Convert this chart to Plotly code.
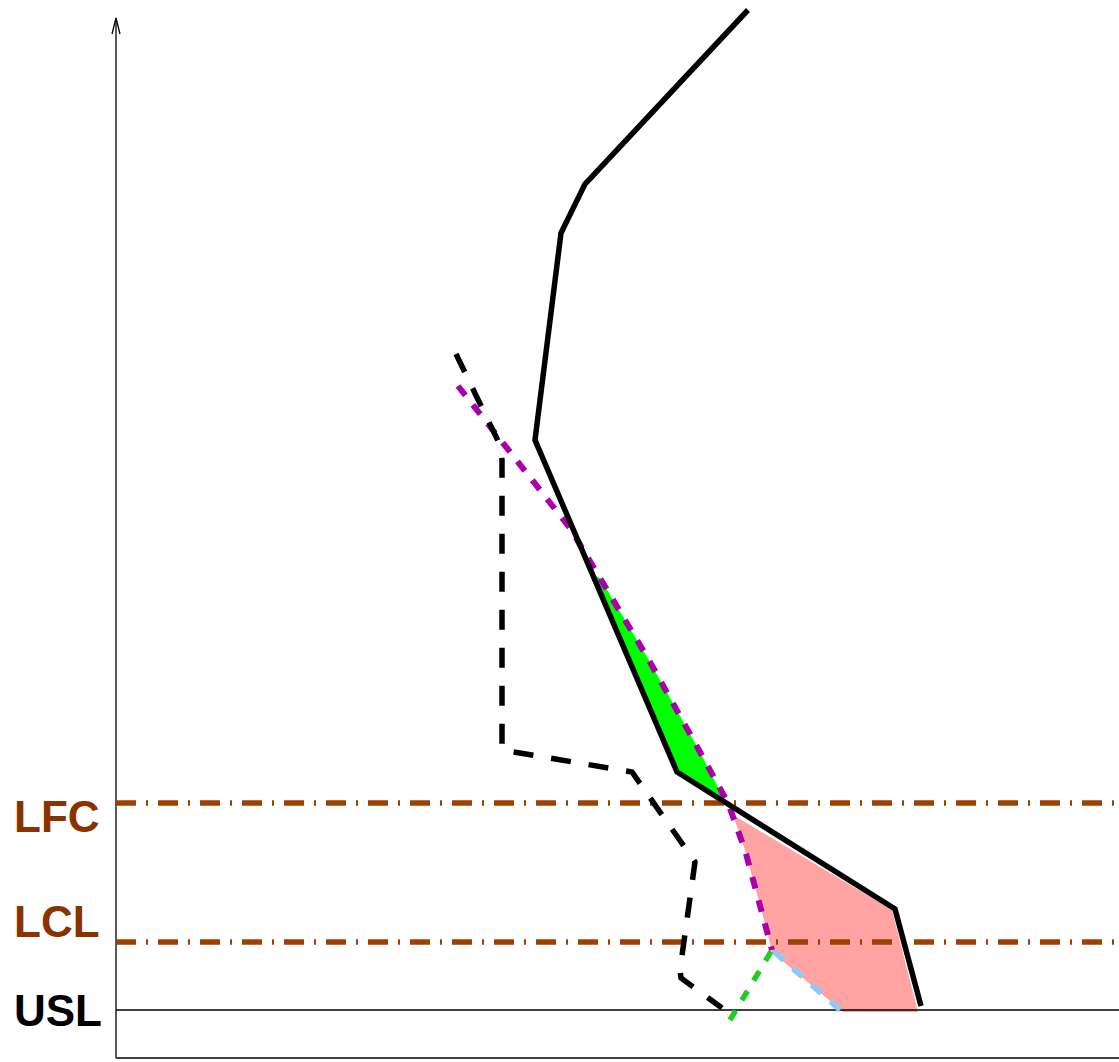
import plotly.graph_objects as go

# Chart units: x to the right of the y-axis, y upward from the x-axis
# Environmental temperature profile
temp_x = [632, 469, 445, 419, 561, 779, 805]
temp_y = [1048, 874, 825, 618, 286, 149, 52]

# Environmental dewpoint profile
dew_x = [340, 358, 384, 386, 386, 516, 579, 564, 565, 606]
dew_y = [704, 667, 613, 598, 308, 286, 196, 88, 80, 50]

# Lifted parcel (moist adiabat above LCL)
parcel_x = [342, 404, 454, 484, 534, 584, 612, 629, 644, 656]
parcel_y = [672, 593, 530, 480, 396, 306, 255, 208, 153, 108]

# Mixing-ratio line from surface dewpoint to LCL
mix_x = [614, 656]
mix_y = [38, 108]

# Dry adiabat from surface to LCL
dry_x = [724, 656]
dry_y = [48, 108]

# CAPE (pink) and negative area (green) outlines
cape_x = [617, 776, 802, 727, 656, 652, 644, 629, 617]
cape_y = [243, 148, 46, 46, 106, 123, 153, 208, 243]
cin_x = [477, 561, 610, 584, 534, 484, 477]
cin_y = [483, 286, 255, 306, 396, 480, 483]

# Levels
usl_y = 48
lcl_y = 116
lfc_y = 255
levels = ["LFC", "LCL", "USL"]
level_y = [lfc_y, lcl_y, usl_y]

X0, X1 = -116, 1003
Y0, Y1 = -4, 1058

fig = go.Figure()

fig.add_trace(go.Scatter(x=cape_x, y=cape_y, fill="toself", mode="none",
                         fillcolor="#FFA3A3", hoverinfo="skip"))
fig.add_trace(go.Scatter(x=cin_x, y=cin_y, fill="toself", mode="none",
                         fillcolor="#00FF00", hoverinfo="skip"))

# axes
fig.add_trace(go.Scatter(x=[0, 0, None, X1, 0], y=[1040, 0, None, 0, 0], mode="lines",
                         line=dict(color="black", width=1.3), hoverinfo="skip"))
fig.add_trace(go.Scatter(x=[-4, 0, 4], y=[1024, 1040, 1024], mode="lines",
                         line=dict(color="black", width=1.3), hoverinfo="skip"))
fig.add_trace(go.Scatter(x=[0, X1], y=[usl_y, usl_y], mode="lines",
                         line=dict(color="black", width=1.5), hoverinfo="skip"))

for yv in [lfc_y, lcl_y]:
    fig.add_trace(go.Scatter(x=[0, X1], y=[yv, yv], mode="lines",
                             line=dict(color="#A04000", width=5.5, dash="20px,10px,2px,10px"),
                             hoverinfo="skip"))

fig.add_trace(go.Scatter(x=mix_x, y=mix_y, mode="lines",
                         line=dict(color="#22CC22", width=5.5, dash="11px,12px"), hoverinfo="skip"))
fig.add_trace(go.Scatter(x=dry_x, y=dry_y, mode="lines",
                         line=dict(color="#88CCFF", width=5.5, dash="13px,12px"), hoverinfo="skip"))
fig.add_trace(go.Scatter(x=parcel_x, y=parcel_y, mode="lines",
                         line=dict(color="#AA00AA", width=6, dash="12px,12px"), hoverinfo="skip"))
fig.add_trace(go.Scatter(x=dew_x, y=dew_y, mode="lines",
                         line=dict(color="black", width=5.5, dash="20px,18px"), hoverinfo="skip"))
fig.add_trace(go.Scatter(x=temp_x, y=temp_y, mode="lines",
                         line=dict(color="black", width=5.5), hoverinfo="skip"))

label_colors = ["#8B3300", "#8B3300", "black"]
label_y = [242, 137, 48]
for name, ly, col in zip(levels, label_y, label_colors):
    fig.add_annotation(x=-104, y=ly, text="<b>" + name + "</b>", showarrow=False,
                       xanchor="left", yanchor="middle",
                       font=dict(family="Liberation Sans, Arial, sans-serif", size=44, color=col))

fig.update_layout(
    width=1119, height=1062,
    margin=dict(l=0, r=0, t=0, b=0),
    paper_bgcolor="white", plot_bgcolor="white",
    showlegend=False,
    xaxis=dict(range=[X0, X1], visible=False, fixedrange=True),
    yaxis=dict(range=[Y0, Y1], visible=False, fixedrange=True),
)

fig.write_html(
    "out.html",
    config={"displayModeBar": False},
    post_script="document.body.style.margin='0';document.body.style.padding='0';"
                "document.body.style.overflow='hidden';"
                "document.documentElement.style.overflow='hidden';",
)
